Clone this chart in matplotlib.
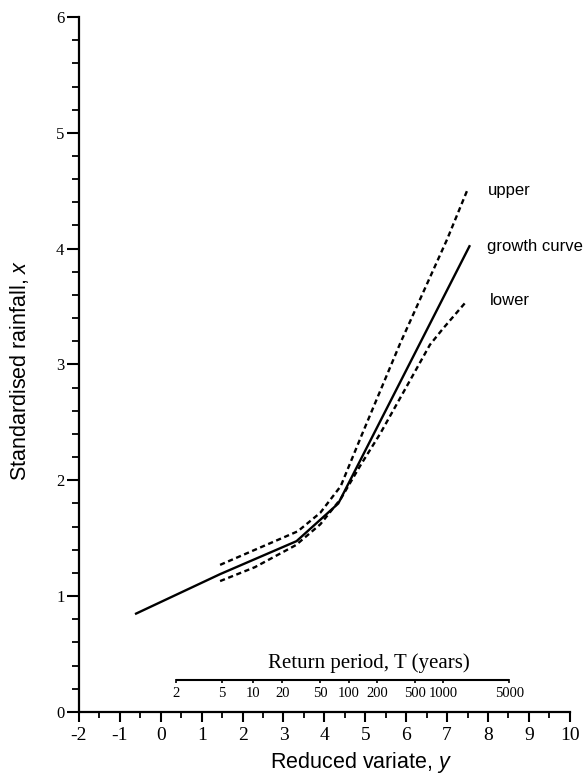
import numpy as np
import matplotlib.pyplot as plt
from matplotlib.ticker import MultipleLocator

plt.rcParams['mathtext.fontset'] = 'custom'
plt.rcParams['mathtext.it'] = 'Liberation Sans:italic'
plt.rcParams['axes.unicode_minus'] = False

# growth curve and its confidence limits (reduced variate y, standardised rainfall x)
growth_y = [-0.63, 1.45, 3.32, 4.34, 7.56]
growth_x = [0.845, 1.19, 1.475, 1.80, 4.03]

upper_y = [1.45, 2.3, 3.35, 3.9, 4.4, 4.9, 5.85, 7.0, 7.5]
upper_x = [1.27, 1.40, 1.56, 1.72, 1.95, 2.38, 3.18, 4.08, 4.51]

lower_y = [1.45, 2.3, 3.3, 3.9, 4.4, 4.9, 5.36, 6.09, 6.58, 6.9, 7.46]
lower_x = [1.13, 1.25, 1.44, 1.62, 1.84, 2.14, 2.40, 2.86, 3.17, 3.31, 3.54]

return_periods = [2, 5, 10, 20, 50, 100, 200, 500, 1000, 5000]

def gumbel_y(T):
    T = np.asarray(T, dtype=float)
    return -np.log(-np.log(1.0 - 1.0 / T))

fig = plt.figure(figsize=(5.85, 7.8), dpi=100)
ax = fig.add_axes([0.135, 0.0872, 0.839, 0.891])

ax.plot(growth_y, growth_x, color='black', lw=1.7, solid_capstyle='butt')
ax.plot(upper_y, upper_x, color='black', lw=1.7, linestyle=(0, (2.2, 1.5)))
ax.plot(lower_y, lower_x, color='black', lw=1.7, linestyle=(0, (2.2, 1.5)))

lab_font = dict(family='Liberation Sans', fontsize=12, va='center', ha='left')
ax.text(8.0, 4.5, 'upper', **lab_font)
ax.text(7.98, 4.02, 'growth curve', **lab_font)
ax.text(8.05, 3.55, 'lower', **lab_font)

# return period scale drawn above the x axis
ty = gumbel_y(return_periods)
line_level = 0.272
ax.plot([ty[0], ty[-1]], [line_level, line_level], color='black', lw=1.5,
        solid_capstyle='butt', clip_on=False)
ax.vlines(ty, line_level - 0.025, line_level + 0.012, color='black', lw=1.2)
for T, yv in zip(return_periods, ty):
    ax.text(yv, 0.16, str(T), family='Liberation Serif', fontsize=10.5,
            ha='center', va='center')
ax.text(5.1, 0.425, 'Return period, T (years)', family='Liberation Serif',
        fontsize=15, ha='center', va='center')

ax.set_xlim(-2, 10)
ax.set_ylim(0, 6)
ax.spines['top'].set_visible(False)
ax.spines['right'].set_visible(False)
ax.spines['left'].set_linewidth(1.6)
ax.spines['bottom'].set_linewidth(1.6)

ax.xaxis.set_major_locator(MultipleLocator(1))
ax.xaxis.set_minor_locator(MultipleLocator(0.5))
ax.yaxis.set_major_locator(MultipleLocator(1))
ax.yaxis.set_minor_locator(MultipleLocator(0.2))
ax.tick_params(axis='x', which='major', direction='out', length=7.5, width=1.5, pad=3)
ax.tick_params(axis='x', which='minor', direction='out', length=4.5, width=1.3)
ax.tick_params(axis='y', which='major', direction='out', length=8.5, width=1.5, pad=2)
ax.tick_params(axis='y', which='minor', direction='out', length=5, width=1.3)
for lbl in ax.get_xticklabels():
    lbl.set_family('Liberation Serif')
    lbl.set_fontsize(14)
for lbl in ax.get_yticklabels():
    lbl.set_family('Liberation Serif')
    lbl.set_fontsize(12)

ax.set_xlabel(r'Reduced variate, $\mathit{y}$', family='Liberation Sans',
              fontsize=15.5)
ax.xaxis.set_label_coords(0.575, -0.055)
ax.set_ylabel(r'Standardised rainfall, $\mathit{x}$', family='Liberation Sans',
              fontsize=15.5)
ax.yaxis.set_label_coords(-0.098, 0.492)

fig.savefig('out.png', dpi=100)
